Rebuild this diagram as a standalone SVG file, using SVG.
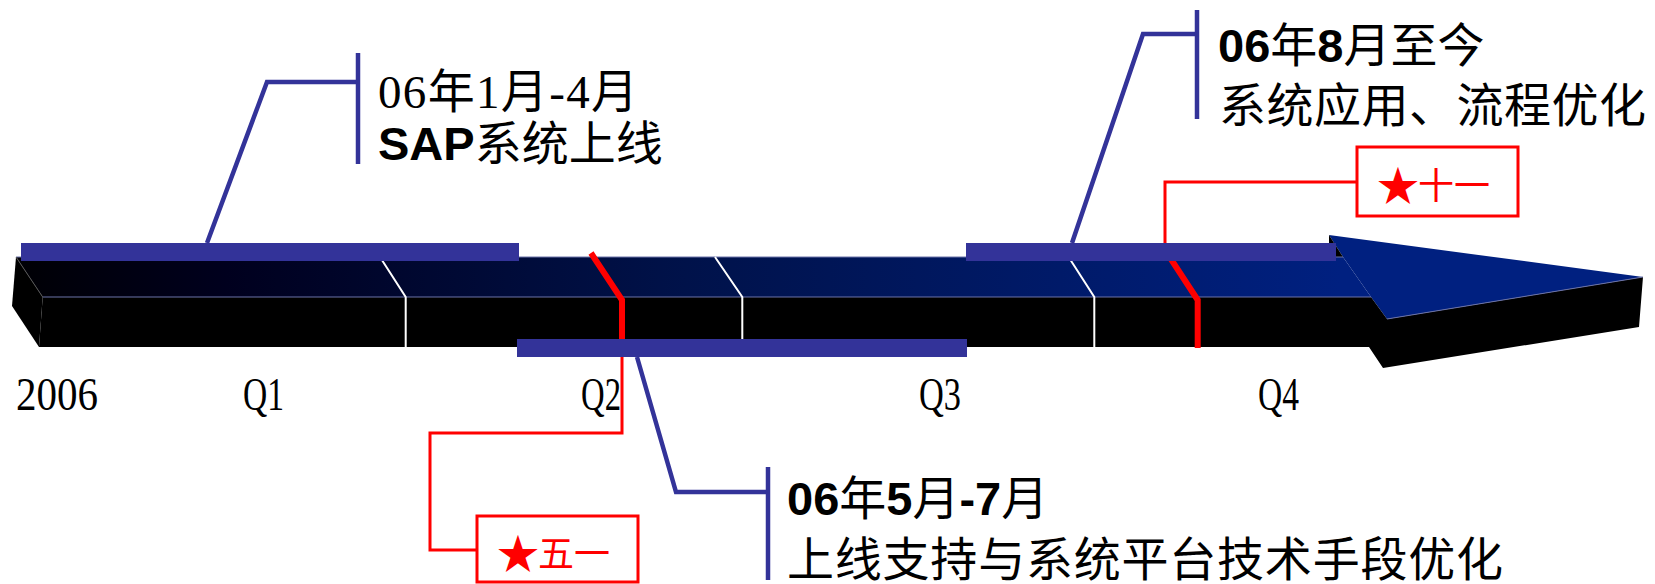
<svg xmlns="http://www.w3.org/2000/svg" width="1655" height="584" viewBox="0 0 1655 584">
<defs>
<linearGradient id="topGrad" gradientUnits="userSpaceOnUse" x1="30" y1="0" x2="1340" y2="0">
<stop offset="0" stop-color="#000006"/>
<stop offset="0.15" stop-color="#00001e"/>
<stop offset="0.5" stop-color="#00124a"/>
<stop offset="1" stop-color="#002080"/>
</linearGradient>
</defs>
<style>
.bar{fill:#333399}
.blue{fill:none;stroke:#333399;stroke-width:4.5}
.redthin{fill:none;stroke:#ff0000;stroke-width:3}
.redthick{fill:none;stroke:#ff0000;stroke-width:6}
.div{fill:none;stroke:#ffffff;stroke-width:2}
.edge{fill:none;stroke:#6a72a8;stroke-width:1}
.lbl{font-family:"Liberation Serif","Noto Sans CJK SC",serif;font-size:47px;fill:#000}
.b{font-family:"Liberation Sans",Arial,sans-serif;font-weight:bold}
.q{font-family:"Liberation Serif",serif;font-size:46px;fill:#000}
.box{fill:#ffffff;stroke:#ff0000;stroke-width:3}
.star{font-family:"Noto Sans CJK SC",sans-serif;font-size:36px;fill:#ff0000}
.starg{font-family:"Noto Sans CJK SC",sans-serif;font-size:42px;fill:#ff0000}
</style>

<g id="timeline-arrow">
  <polygon points="16,257 42.7,297 39,347 12,306" fill="#000000"/>
  <polygon points="16,257 1343,257 1371,297 42.7,297" fill="url(#topGrad)"/>
  <polygon points="1329,235 1643,277 1387,319 1371,297 1343,257" fill="#002080"/>
  <polygon points="1329,235 1343,257 1329,257" fill="#000000"/>
  <polygon points="42.7,297 1371,297 1387,319 1643,277 1639,327 1383,368 1369,347 39,347" fill="#000000"/>
  <line class="edge" x1="16" y1="257" x2="1343" y2="257"/>
  <line class="edge" x1="42.7" y1="297" x2="1371" y2="297"/>
  <line class="edge" x1="1387" y1="319" x2="1643" y2="277"/>
  <line x1="16" y1="257" x2="42.7" y2="297" stroke="#555" stroke-width="1"/>
  <path class="div" d="M380,257 L405.7,297 L405.7,347"/>
  <path class="div" d="M715,257 L742.3,297 L742.3,347"/>
  <path class="div" d="M1068.6,257 L1094.3,297 L1094.3,347"/>
  <path class="redthick" d="M591,253 L622,300 L622,348"/>
  <path class="redthick" d="M1167,253 L1197.7,300 L1197.7,348"/>
  <rect class="bar" x="21" y="243" width="498" height="18"/>
  <rect class="bar" x="966" y="243" width="370" height="18"/>
  <rect class="bar" x="517" y="339" width="450" height="18"/>
</g>

<g id="axis-labels">
  <text class="q" x="16" y="410" textLength="82" lengthAdjust="spacingAndGlyphs">2006</text>
  <text class="q" x="243" y="410" textLength="41" lengthAdjust="spacingAndGlyphs">Q1</text>
  <text class="q" x="581" y="410" textLength="40" lengthAdjust="spacingAndGlyphs">Q2</text>
  <text class="q" x="919" y="410" textLength="42" lengthAdjust="spacingAndGlyphs">Q3</text>
  <text class="q" x="1258" y="410" textLength="41" lengthAdjust="spacingAndGlyphs">Q4</text>
</g>

<g id="connectors">
  <polyline class="blue" points="207,243 267,82 358,82"/>
  <polyline class="blue" points="1072,243 1143,34 1197,34"/>
  <polyline class="blue" points="637,357 676,492 768,492"/>
  <polyline class="redthin" points="622,357 622,433 430,433 430,550 477,550"/>
  <polyline class="redthin" points="1357,182 1165,182 1165,243"/>
</g>

<g id="phase1">
  <line class="blue" x1="358" y1="53" x2="358" y2="164"/>
  <text class="lbl" x="378" y="108" textLength="260">06年1月-4月</text>
  <text class="lbl" x="378" y="160"><tspan class="b">SAP</tspan>系统上线</text>
</g>

<g id="phase2">
  <line class="blue" x1="768" y1="467" x2="768" y2="580"/>
  <text class="lbl" x="787" y="515"><tspan class="b">06</tspan>年<tspan class="b">5</tspan>月<tspan class="b">-7</tspan>月</text>
  <text class="lbl" x="787" y="576" textLength="716">上线支持与系统平台技术手段优化</text>
</g>

<g id="phase3">
  <line class="blue" x1="1197" y1="10" x2="1197" y2="119"/>
  <text class="lbl" x="1218" y="62"><tspan class="b">06</tspan>年<tspan class="b">8</tspan>月至今</text>
  <text class="lbl" x="1219" y="122" textLength="427">系统应用、流程优化</text>
</g>

<g id="milestone-may">
  <rect class="box" x="477" y="516" width="161" height="66"/>
  <text x="497" y="569"><tspan class="starg">★</tspan><tspan class="star" x="538" y="567">五一</tspan></text>
</g>

<g id="milestone-oct">
  <rect class="box" x="1357" y="147" width="161" height="69"/>
  <text x="1377" y="201"><tspan class="starg">★</tspan><tspan class="star" x="1418" y="199">十一</tspan></text>
</g>
</svg>
